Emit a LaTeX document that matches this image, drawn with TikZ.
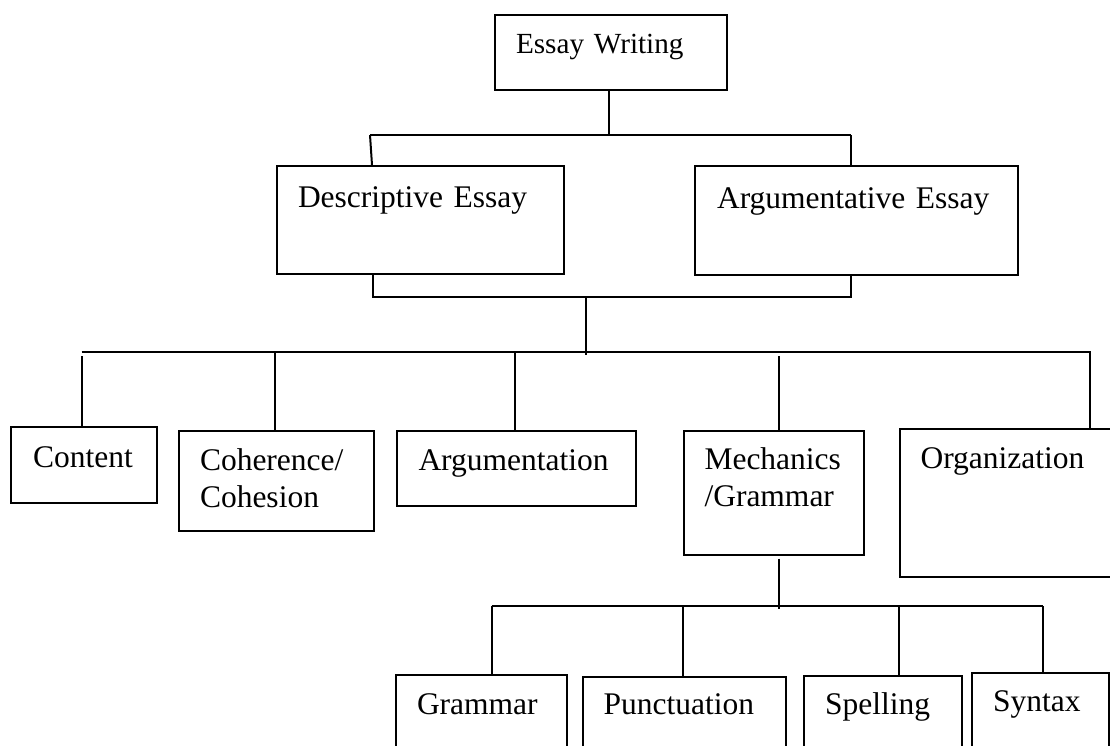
\documentclass[tikz,border=0pt]{standalone}
\usepackage{fontspec}
\setmainfont{Liberation Serif}
\newcommand{\dgfont}{\fontsize{31.5}{37}\selectfont\hyphenpenalty=10000\exhyphenpenalty=10000 }
\newcommand{\dgfonttop}{\fontsize{29.2}{35}\selectfont\hyphenpenalty=10000 }
\tikzset{
  bx/.style n args={4}{draw, anchor=north west, inner ysep=0pt, inner xsep=#4,
     text width=#1, text height=#2, text depth=#3, align=left},
  conn/.style={draw}
}
\begin{document}
\begin{tikzpicture}[x=1pt,y=-1pt,line width=2pt,every node/.append style={font=\dgfont}]
\useasboundingbox (0,0) rectangle (1110,745);
\clip (0,0) rectangle (1110,745);
% boxes
\node[bx={189pt}{38.5pt}{36.5pt}{21.5pt}, font=\dgfonttop] (ew) at (493.5,13.5) {Essay Writing};
\node[bx={245pt}{41.5pt}{66.5pt}{21pt}] (de) at (276,165) {Descriptive Essay};
\node[bx={279pt}{42pt}{67pt}{22pt}] (ar) at (694,165) {Argumentative Essay};
\node[bx={101pt}{40.5pt}{35.5pt}{22.5pt}] (co) at (9.5,425.5) {Content};
\node[bx={152pt}{39.5pt}{61pt}{21.5pt}] (ch) at (177.5,429.5) {Coherence/\\Cohesion};
\node[bx={196pt}{40pt}{35pt}{21.5pt}] (am) at (396,429.5) {Argumentation};
\node[bx={138pt}{39pt}{85.5pt}{21pt}] (me) at (682.5,429.5) {Mechanics\\/Grammar};
\node[bx={185pt}{39.5pt}{108.5pt}{21pt}] (og) at (898.5,427.5) {Organization};
\node[bx={128pt}{39.5pt}{66.5pt}{21.5pt}] (gr) at (394.5,674) {Grammar};
\node[bx={161.5pt}{37pt}{67pt}{20.5pt}] (pu) at (582,676) {Punctuation};
\node[bx={115.5pt}{39pt}{66.5pt}{21.5pt}] (sp) at (802.5,674.5) {Spelling};
\node[bx={94pt}{39pt}{69pt}{21.5pt}] (sy) at (970.5,671.5) {Syntax};
% junction coordinates
\coordinate (t1) at (608.5,136);
\coordinate (hL) at (370,135);
\coordinate (hR) at (850.5,135);
\coordinate (hLb) at (372,135);
\coordinate (mL) at (372.5,296.5);
\coordinate (mR) at (850.5,296.5);
\coordinate (m0) at (586,296.5);
\coordinate (m1) at (586,355);
\coordinate (gL) at (81.5,351.5);
\coordinate (gR) at (1089.5,351.5);
\coordinate (c1) at (81.5,356);
\coordinate (c2) at (274.5,351.5);
\coordinate (c3) at (514.5,351.5);
\coordinate (c4) at (778.5,356);
\coordinate (d1) at (778.5,558.5);
\coordinate (d0) at (778.5,608.5);
\coordinate (eL) at (491.5,606);
\coordinate (e2) at (682.5,606);
\coordinate (e3) at (898.5,606);
\coordinate (eR) at (1042.5,606);
% connectors
\draw[conn] (ew.south -| t1) -- (t1);
\draw[conn] (hL) -- (hR);
\draw[conn] (hL) -- (de.north -| hLb);
\draw[conn] (hR) -- (ar.north -| hR);
\draw[conn] (de.south -| mL) -- (mL) -- (mR) -- (ar.south -| mR);
\draw[conn] (m0) -- (m1);
\draw[conn] (gL) -- (gR) -- (og.north -| gR);
\draw[conn] (c1) -- (co.north -| c1);
\draw[conn] (c2) -- (ch.north -| c2);
\draw[conn] (c3) -- (am.north -| c3);
\draw[conn] (c4) -- (me.north -| c4);
\draw[conn] (d1) -- (d0);
\draw[conn] (eL) -- (eR);
\draw[conn] (eL) -- (gr.north -| eL);
\draw[conn] (e2) -- (pu.north -| e2);
\draw[conn] (e3) -- (sp.north -| e3);
\draw[conn] (eR) -- (sy.north -| eR);
\end{tikzpicture}
\end{document}
